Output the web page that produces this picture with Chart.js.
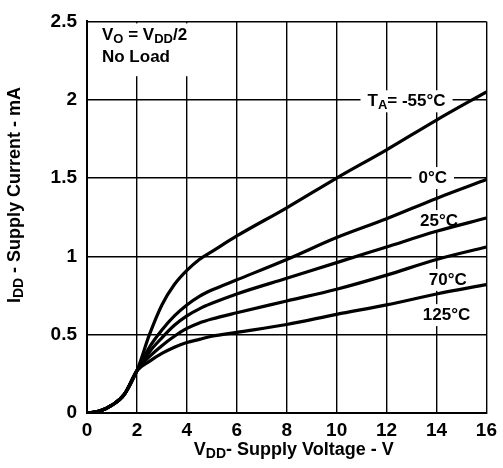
<!DOCTYPE html>
<html>
<head>
<meta charset="utf-8">
<script src="https://cdn.jsdelivr.net/npm/chart.js@4"></script>
<style>
  html, body { margin: 0; padding: 0; background: #fff; }
  #wrap { width: 503px; height: 468px; }
</style>
</head>
<body>
<div id="wrap"><canvas id="iddChart" width="503" height="468"></canvas></div>
<script>
// supply voltage (V) sample points
const volts = [0, 0.5, 1, 1.5, 2, 2.5, 3, 3.5, 4, 4.5, 5, 6, 8, 10, 12, 14, 16];

// supply current (mA) per ambient temperature
const iddM55 = [0, 0.012, 0.05, 0.12, 0.27, 0.50, 0.69, 0.82, 0.91, 0.98, 1.03, 1.13, 1.31, 1.50, 1.68, 1.87, 2.05];
const idd0   = [0, 0.012, 0.05, 0.12, 0.27, 0.42, 0.53, 0.62, 0.69, 0.745, 0.785, 0.85, 0.98, 1.12, 1.24, 1.37, 1.49];
const idd25  = [0, 0.012, 0.05, 0.12, 0.27, 0.39, 0.48, 0.56, 0.62, 0.665, 0.70, 0.76, 0.86, 0.96, 1.06, 1.16, 1.245];
const idd70  = [0, 0.012, 0.05, 0.12, 0.27, 0.36, 0.43, 0.49, 0.54, 0.575, 0.60, 0.64, 0.715, 0.79, 0.88, 0.98, 1.06];
const idd125 = [0, 0.012, 0.05, 0.12, 0.27, 0.33, 0.38, 0.42, 0.45, 0.47, 0.49, 0.515, 0.565, 0.63, 0.69, 0.76, 0.82];

const seriesNames = ['-55°C', '0°C', '25°C', '70°C', '125°C'];
const seriesValues = [iddM55, idd0, idd25, idd70, idd125];

const FONT = '"Liberation Sans", Arial, sans-serif';

// draw a row of text pieces, some of them subscripts
const drawPieces = (ctx, pieces, x, y, size) => {
  let cx = x;
  pieces.forEach(p => {
    const fs = p.sub ? size - 4 : size;
    ctx.font = 'bold ' + fs + 'px ' + FONT;
    ctx.fillText(p.t, cx, p.sub ? y + 4 : y);
    cx += ctx.measureText(p.t).width;
  });
};

const piecesWidth = (ctx, pieces, size) => pieces.reduce((w, p) => {
  ctx.font = 'bold ' + (p.sub ? size - 4 : size) + 'px ' + FONT;
  return w + ctx.measureText(p.t).width;
}, 0);

// curve labels, placed in data units
const curveLabels = [
  { x: 12.8, y: 1.99, pieces: [{ t: 'T' }, { t: 'A', sub: true }, { t: '= -55°C' }] },
  { x: 13.85, y: 1.5, pieces: [{ t: '0°C' }] },
  { x: 14.1, y: 1.225, pieces: [{ t: '25°C' }] },
  { x: 14.45, y: 0.85, pieces: [{ t: '70°C' }] },
  { x: 14.4, y: 0.625, pieces: [{ t: '125°C' }] }
];

const labelPlugin = {
  id: 'labels',
  beforeDatasetsDraw(chart) {
    const { ctx, scales: { x, y }, chartArea } = chart;
    ctx.save();
    ctx.textBaseline = 'middle';
    // condition box, top-left
    ctx.fillStyle = '#fff';
    ctx.fillRect(chartArea.left + 2, chartArea.top + 2, x.getPixelForValue(4.8) - chartArea.left - 2, y.getPixelForValue(2.15) - chartArea.top - 2);
    ctx.fillStyle = '#000';
    drawPieces(ctx, [{ t: 'V' }, { t: 'O', sub: true }, { t: ' = V' }, { t: 'DD', sub: true }, { t: '/2' }], x.getPixelForValue(0.6), y.getPixelForValue(2.41), 17);
    drawPieces(ctx, [{ t: 'No Load' }], x.getPixelForValue(0.6), y.getPixelForValue(2.27), 17);

    curveLabels.forEach(l => {
      const w = piecesWidth(ctx, l.pieces, 17);
      const cx = x.getPixelForValue(l.x);
      const cy = y.getPixelForValue(l.y);
      ctx.fillStyle = '#fff';
      ctx.fillRect(cx - w / 2 - 7, cy - 11, w + 14, 22);
      ctx.fillStyle = '#000';
      drawPieces(ctx, l.pieces, cx - w / 2, cy, 17);
    });
    ctx.restore();
  },
  afterDraw(chart) {
    const { ctx, chartArea } = chart;
    ctx.save();
    ctx.fillStyle = '#000';
    ctx.textBaseline = 'middle';
    const xt = [{ t: 'V' }, { t: 'DD', sub: true }, { t: '- Supply Voltage - V' }];
    const xw = piecesWidth(ctx, xt, 18);
    drawPieces(ctx, xt, (chartArea.left + chartArea.right) / 2 + 7 - xw / 2, 450, 18);
    const yt = [{ t: 'I' }, { t: 'DD', sub: true }, { t: ' - Supply Current - mA' }];
    const yw = piecesWidth(ctx, yt, 18);
    ctx.translate(15, 195);
    ctx.rotate(-Math.PI / 2);
    drawPieces(ctx, yt, -yw / 2, 0, 18);
    ctx.restore();
  }
};

const data = {
  datasets: seriesNames.map((name, i) => ({
    label: name,
    data: volts.map((v, j) => ({ x: v, y: seriesValues[i][j] })),
    borderColor: '#000',
    borderWidth: 3.2,
    pointRadius: 0,
    fill: false,
    cubicInterpolationMode: 'monotone'
  }))
};

const tickFont = { family: FONT, size: 19, weight: 'bold' };

const options = {
  responsive: false,
  animation: false,
  layout: { padding: { top: 14, right: 14, left: 0, bottom: 0 } },
  plugins: {
    legend: { display: false },
    tooltip: { enabled: false }
  },
  scales: {
    x: {
      type: 'linear',
      min: 0,
      max: 16,
      ticks: { stepSize: 2, color: '#000', font: tickFont, padding: 6, maxRotation: 0 },
      grid: { color: '#000', lineWidth: 1.4, drawTicks: false },
      border: { color: '#000', width: 2 },
      afterFit: s => { s.height = 55; }
    },
    y: {
      min: 0,
      max: 2.5,
      ticks: { stepSize: 0.5, color: '#000', font: tickFont, padding: 10, callback: v => String(v) },
      grid: { color: '#000', lineWidth: 1.4, drawTicks: false },
      border: { color: '#000', width: 2 },
      afterFit: s => { s.width = 87; }
    }
  }
};

new Chart('iddChart', { type: 'line', data, options, plugins: [labelPlugin] });
</script>
</body>
</html>
